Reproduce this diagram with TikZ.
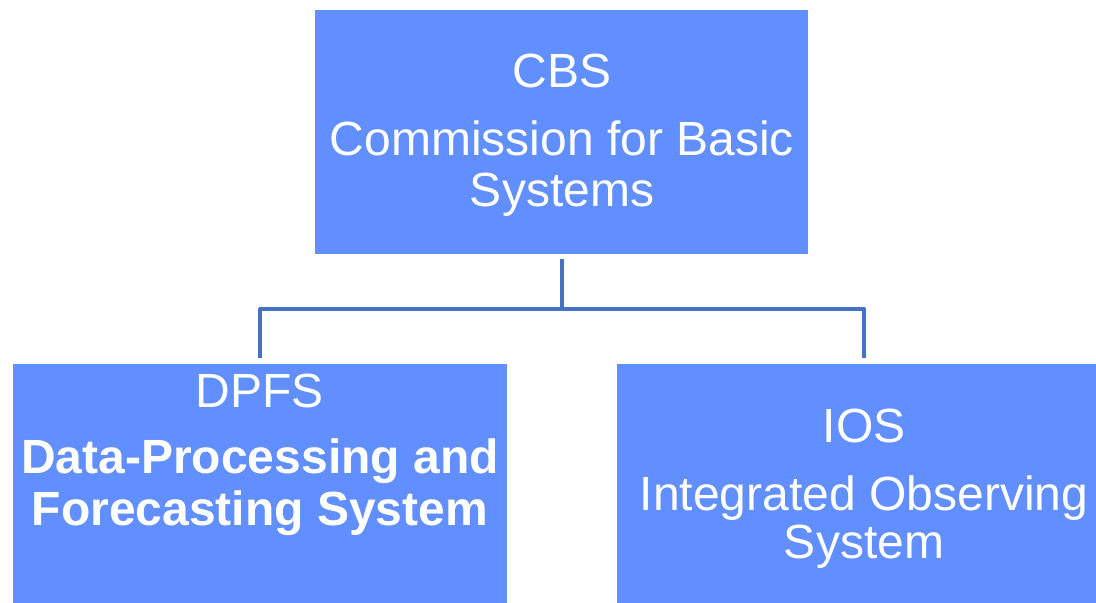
\documentclass[tikz,border=0pt]{standalone}
\usepackage{fontspec}
\setmainfont{Liberation Sans}
\usetikzlibrary{calc}
\definecolor{boxblue}{RGB}{97,143,255}
\definecolor{linkblue}{RGB}{68,114,196}
\begin{document}
\begin{tikzpicture}[x=0.75pt,y=-0.75pt,
  box/.style={draw=none,fill=boxblue,inner sep=0pt,outer sep=0pt},
  txt/.style={text=white,inner sep=0pt,anchor=base,font=\fontsize{36}{40}\selectfont},
  btxt/.style={txt,font=\fontsize{36}{40}\selectfont\bfseries},
  conn/.style={draw=linkblue,line width=3pt,line join=round}]
\useasboundingbox (0,0) rectangle (1096,603);
\clip (0,0) rectangle (1096,603);
% boxes
\node[box,minimum width=369.75pt,minimum height=183pt] (cbs) at (561.5,132) {};
\node[box,minimum width=370.5pt,minimum height=188.25pt] (dpfs) at (260,489.5) {};
\node[box,minimum width=370.5pt,minimum height=188.25pt] (ios) at (864,489.5) {};
% texts
\node[txt] (cbsA) at (562,87) {CBS};
\node[txt] (cbsB) at (562,155) {Commission for Basic};
\node[txt] (cbsC) at (562,206) {Systems};
\node[txt] (dpfsA) at (260,407) {DPFS};
\node[btxt] (dpfsB) at (260,473) {Data-Processing and};
\node[btxt] (dpfsC) at (260,525) {Forecasting System};
\node[txt] (iosA) at (864,442) {IOS};
\node[txt] (iosB) at (864,510) {Integrated Observing};
\node[txt] (iosC) at (864,558) {System};
% connectors
\coordinate (j) at ($(cbs.south)+(0.5,55)$);
\draw[conn] ($(cbs.south)+(0.5,5)$) -- (j);
\draw[conn] ($(dpfs.north)+(0,-6)$) |- (j) -| ($(ios.north)+(0,-6)$);
\end{tikzpicture}
\end{document}
